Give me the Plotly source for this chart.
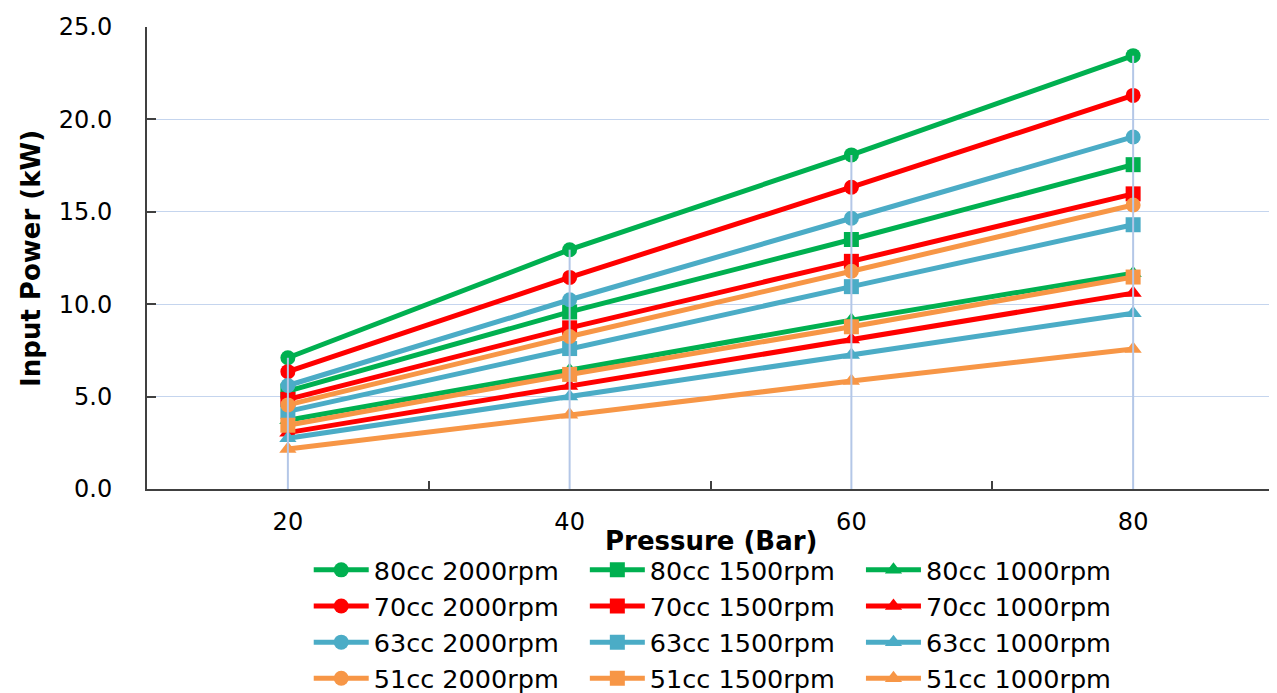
import plotly.graph_objects as go

pressure = [20, 40, 60, 80]

series_names = [
    "80cc 2000rpm", "80cc 1500rpm", "80cc 1000rpm",
    "70cc 2000rpm", "70cc 1500rpm", "70cc 1000rpm",
    "63cc 2000rpm", "63cc 1500rpm", "63cc 1000rpm",
    "51cc 2000rpm", "51cc 1500rpm", "51cc 1000rpm",
]

p80_2000 = [7.1, 12.95, 18.08, 23.45]
p80_1500 = [5.3, 9.58, 13.5, 17.55]
p80_1000 = [3.72, 6.42, 9.14, 11.68]
p70_2000 = [6.35, 11.45, 16.33, 21.3]
p70_1500 = [4.85, 8.72, 12.32, 15.97]
p70_1000 = [3.05, 5.58, 8.09, 10.6]
p63_2000 = [5.6, 10.24, 14.65, 19.05]
p63_1500 = [4.2, 7.6, 10.95, 14.3]
p63_1000 = [2.75, 5.0, 7.25, 9.51]
p51_2000 = [4.55, 8.25, 11.78, 15.37]
p51_1500 = [3.45, 6.2, 8.78, 11.47]
p51_1000 = [2.16, 4.02, 5.84, 7.58]

series_values = [
    p80_2000, p80_1500, p80_1000,
    p70_2000, p70_1500, p70_1000,
    p63_2000, p63_1500, p63_1000,
    p51_2000, p51_1500, p51_1000,
]

colors = {"80cc": "#00B050", "70cc": "#FF0000", "63cc": "#4BACC6", "51cc": "#F79646"}
symbols = {"2000rpm": "circle", "1500rpm": "square", "1000rpm": "triangle-up"}
legend_of_rpm = {"2000rpm": "legend", "1500rpm": "legend2", "1000rpm": "legend3"}

y_ticks = [0, 5, 10, 15, 20, 25]

font_main = "DejaVu Sans"

fig = go.Figure()

for name, vals in zip(series_names, series_values):
    disp, rpm = name.split(" ")
    fig.add_trace(go.Scatter(
        x=pressure, y=vals, name=name, mode="lines+markers",
        line=dict(color=colors[disp], width=5),
        marker=dict(symbol=symbols[rpm], size=15, color=colors[disp]),
        legend=legend_of_rpm[rpm],
    ))

# drop lines from the highest point at each pressure down to the axis
drop_x, drop_y = [], []
for i, p in enumerate(pressure):
    top = max(v[i] for v in series_values)
    drop_x += [p, p, None]
    drop_y += [0, top, None]
fig.add_trace(go.Scatter(
    x=drop_x, y=drop_y, mode="lines", showlegend=False, hoverinfo="skip",
    line=dict(color="#B4C7E7", width=2),
))

# page has an 8px body margin; figure is sized/margined to compensate
legend_style = dict(
    orientation="v", yanchor="top", y=-0.125, xanchor="left",
    font=dict(size=25.5, family=font_main), itemwidth=55,
    bgcolor="rgba(0,0,0,0)", tracegroupgap=0,
)
fig.update_layout(
    width=1269, height=685,
    margin=dict(l=139, r=3, t=19, b=204, autoexpand=False),
    paper_bgcolor="white", plot_bgcolor="white",
    font=dict(family=font_main, color="#000000", size=24),
    showlegend=True,
    legend=dict(legend_style, x=0.1435),
    legend2=dict(legend_style, x=0.3885),
    legend3=dict(legend_style, x=0.6335),
    xaxis=dict(
        range=[10, 90], tickvals=pressure, ticktext=[str(p) for p in pressure],
        showgrid=False, zeroline=False, ticks="", automargin=False,
        showline=True, linecolor="#404040", linewidth=2,
        tickfont=dict(size=24), ticklabelstandoff=10,
        minor=dict(tickvals=[30, 50, 70, 90], ticks="inside", ticklen=8,
                   tickcolor="#404040", tickwidth=2, showgrid=False),
    ),
    yaxis=dict(
        range=[0, 25], tickvals=y_ticks, ticktext=[f"{t:.1f}" for t in y_ticks],
        showgrid=True, gridcolor="#C5D5EE", gridwidth=1, zeroline=False,
        ticks="inside", ticklen=9, tickcolor="#404040", tickwidth=2,
        showline=True, linecolor="#404040", linewidth=2, automargin=False,
        tickfont=dict(size=24), ticklabelstandoff=28,
    ),
    annotations=[
        dict(text="<b>Pressure (Bar)</b>", xref="paper", yref="paper",
             x=0.5, y=-0.112, xanchor="center", yanchor="middle",
             showarrow=False, font=dict(size=26, family=font_main)),
        dict(text="<b>Input Power (kW)</b>", xref="paper", yref="paper",
             x=-0.103, y=0.5, xanchor="center", yanchor="middle", textangle=-90,
             showarrow=False, font=dict(size=26, family=font_main)),
    ],
)

fig.write_html("out.html")
